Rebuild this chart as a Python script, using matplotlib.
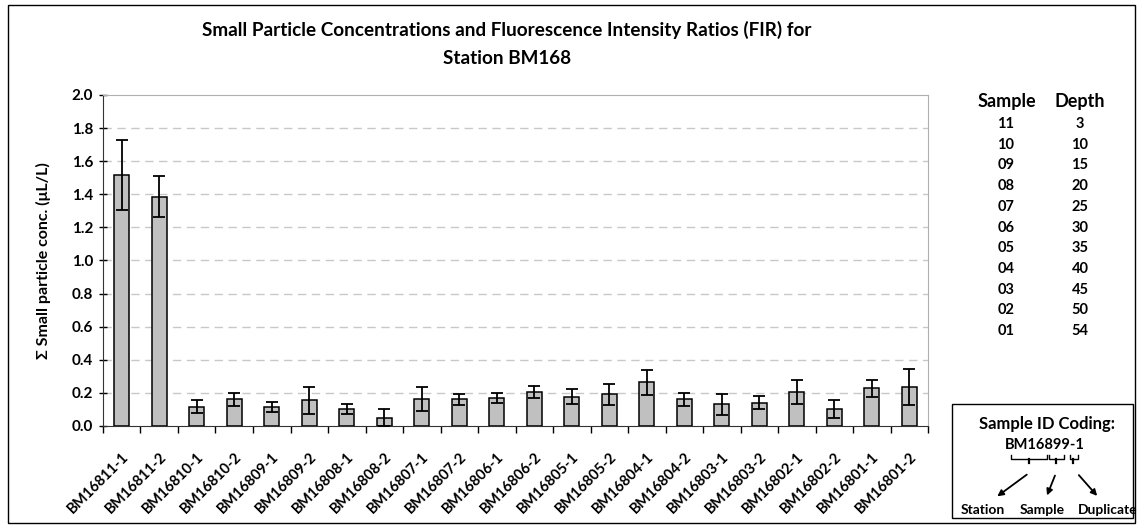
import numpy as np
import matplotlib
matplotlib.use("Agg")
import matplotlib.pyplot as plt
from matplotlib.patches import Rectangle, FancyArrowPatch

plt.rcParams['font.family'] = ['Lato', 'DejaVu Sans']
plt.rcParams['font.weight'] = 'bold'

# sample labels and values
samples = ["BM16811-1", "BM16811-2", "BM16810-1", "BM16810-2", "BM16809-1", "BM16809-2",
           "BM16808-1", "BM16808-2", "BM16807-1", "BM16807-2", "BM16806-1", "BM16806-2",
           "BM16805-1", "BM16805-2", "BM16804-1", "BM16804-2", "BM16803-1", "BM16803-2",
           "BM16802-1", "BM16802-2", "BM16801-1", "BM16801-2"]
conc = [1.515, 1.384, 0.117, 0.161, 0.117, 0.155, 0.103, 0.050, 0.161, 0.161, 0.169, 0.205,
        0.177, 0.191, 0.264, 0.161, 0.131, 0.141, 0.205, 0.103, 0.228, 0.236]
err = [0.21, 0.124, 0.04, 0.04, 0.03, 0.08, 0.03, 0.05, 0.073, 0.033, 0.03, 0.038,
       0.045, 0.063, 0.077, 0.04, 0.065, 0.04, 0.075, 0.055, 0.05, 0.11]

table_samples = ["11", "10", "09", "08", "07", "06", "05", "04", "03", "02", "01"]
table_depths = ["3", "10", "15", "20", "25", "30", "35", "40", "45", "50", "54"]


def fx(px):
    return px / 1138


def fy(py):
    return 1 - py / 525


fig = plt.figure(figsize=(11.38, 5.25), dpi=100)
ax = fig.add_axes([0.0905, 0.1886, 0.7250, 0.6305])

x = np.arange(len(samples))
ax.bar(x, conc, width=0.4, color="#c0c0c0", edgecolor="black", linewidth=1.1, zorder=3)
ax.errorbar(x, conc, yerr=err, fmt="none", ecolor="black", elinewidth=1.3,
            capsize=4.5, capthick=1.3, zorder=4)

ax.set_xlim(-0.5, len(samples) - 0.5)
ax.set_ylim(0, 2.0)
yt = np.arange(0, 2.01, 0.2)
ax.set_yticks(yt)
ax.set_yticklabels([f"{v:.1f}" for v in yt], fontsize=11, fontweight="bold")
ax.set_xticks(x)
ax.set_xticklabels(samples, rotation=45, ha="right", rotation_mode="anchor",
                   fontsize=10.5, fontweight="bold")
ax.tick_params(axis="x", length=0, pad=17)
ax.set_xticks(np.arange(-0.5, len(samples)), minor=True)
ax.tick_params(axis="x", which="minor", length=5, width=1, direction="out")
ax.tick_params(axis="y", length=6, width=1, direction="inout", pad=4)

for v in yt[1:-1]:
    ax.axhline(v, color="#c8c8c8", linestyle=(0, (6, 4)), linewidth=1, zorder=1)

ax.spines["top"].set_color("#b0b0b0")
ax.spines["right"].set_color("#b0b0b0")
ax.spines["left"].set_color("#333333")
ax.spines["bottom"].set_color("#333333")

ax.set_ylabel("Σ Small particle conc. (μL/L)", fontsize=11.5, fontweight="bold", labelpad=15)

fig.text(0.445, 0.942, "Small Particle Concentrations and Fluorescence Intensity Ratios (FIR) for",
         ha="center", va="center", fontsize=13.6, fontweight="bold")
fig.text(0.446, 0.889, "Station BM168", ha="center", va="center", fontsize=13.6, fontweight="bold")

# sample / depth table
fig.text(fx(1007), fy(102), "Sample", ha="center", va="center", fontsize=13, fontweight="bold")
fig.text(fx(1080), fy(102), "Depth", ha="center", va="center", fontsize=13, fontweight="bold")
for i, (s, d) in enumerate(zip(table_samples, table_depths)):
    yy = fy(124 + i * 20.7)
    fig.text(fx(1006), yy, s, ha="center", va="center", fontsize=10.5, fontweight="bold")
    fig.text(fx(1080), yy, d, ha="center", va="center", fontsize=10.5, fontweight="bold")

# sample id coding box
fig.patches.append(Rectangle((fx(952), fy(518)), fx(1133) - fx(952), fy(404) - fy(518),
                             transform=fig.transFigure, fill=False, edgecolor="black", linewidth=1))
fig.text(fx(1047), fy(424), "Sample ID Coding:", ha="center", va="center", fontsize=12, fontweight="bold")
fig.text(fx(1045), fy(445), "BM16899-1", ha="center", va="center", fontsize=10.5, fontweight="bold")
for x0, x1, xm in [(1011, 1047, 1029), (1049, 1064, 1056), (1070, 1078, 1073)]:
    fig.add_artist(plt.Line2D([fx(x0), fx(x0), fx(x1), fx(x1)], [fy(455), fy(459), fy(459), fy(455)],
                              transform=fig.transFigure, color="black", linewidth=1))
    fig.add_artist(plt.Line2D([fx(xm), fx(xm)], [fy(459), fy(463)],
                              transform=fig.transFigure, color="black", linewidth=1.6))
for (xs, ys), (xe, ye) in [((1029, 473), (995, 498)), ((1056, 473), (1046, 498)), ((1077, 473), (1099, 498))]:
    fig.add_artist(FancyArrowPatch((fx(xs), fy(ys)), (fx(xe), fy(ye)),
                                   transform=fig.transFigure, arrowstyle="-|>",
                                   mutation_scale=9, color="black", linewidth=1.3))
fig.text(fx(983), fy(510), "Station", ha="center", va="center", fontsize=10, fontweight="bold")
fig.text(fx(1042), fy(510), "Sample", ha="center", va="center", fontsize=10, fontweight="bold")
fig.text(fx(1108), fy(510), "Duplicate", ha="center", va="center", fontsize=10, fontweight="bold")

# outer chart border
fig.patches.append(Rectangle((fx(8), fy(523)), fx(1135) - fx(8), fy(5) - fy(523),
                             transform=fig.transFigure, fill=False, edgecolor="black", linewidth=1))

fig.savefig("out.png", dpi=100)
